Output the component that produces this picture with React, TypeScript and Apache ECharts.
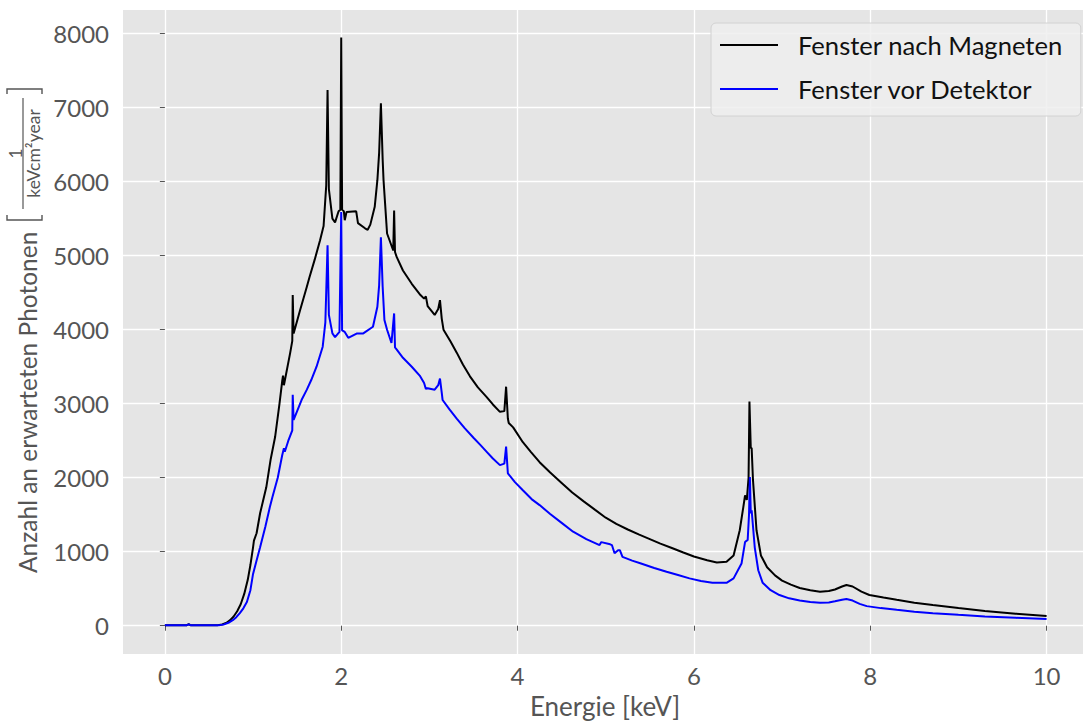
import React, { useEffect, useRef } from "react";
import * as echarts from "echarts";

// Energie [keV], Anzahl — "Fenster nach Magneten"
const magnetWindow: [number, number][] = [
  [0, 5], [0.25, 8], [0.27, 20], [0.29, 8], [0.5, 5], [0.6, 8], [0.65, 18], [0.7, 40],
  [0.74, 75], [0.78, 125], [0.82, 195], [0.86, 290], [0.9, 430], [0.94, 620], [0.97, 820],
  [1.0, 1060], [1.01, 1150], [1.04, 1250], [1.08, 1520], [1.15, 1870], [1.2, 2250],
  [1.25, 2550], [1.3, 3000], [1.33, 3300], [1.34, 3380], [1.35, 3250], [1.42, 3680],
  [1.445, 3850], [1.45, 4470], [1.46, 3950], [1.53, 4250], [1.61, 4580], [1.64, 4710],
  [1.7, 4950], [1.76, 5210], [1.8, 5400], [1.83, 5950], [1.845, 7240], [1.86, 5900],
  [1.9, 5500], [1.93, 5450], [1.97, 5600], [1.99, 5620], [2.0, 7950], [2.01, 5620],
  [2.03, 5600], [2.04, 5480], [2.06, 5590], [2.17, 5600], [2.19, 5440], [2.27, 5370],
  [2.3, 5350], [2.33, 5420], [2.38, 5660], [2.41, 6020], [2.43, 6390], [2.45, 7060],
  [2.47, 6300], [2.48, 6020], [2.5, 5660], [2.52, 5300], [2.59, 5070], [2.6, 5610],
  [2.61, 5050], [2.63, 4980], [2.7, 4800], [2.8, 4620], [2.89, 4480], [2.94, 4420],
  [2.96, 4450], [2.98, 4320], [3.06, 4200], [3.1, 4280], [3.12, 4400], [3.14, 4150],
  [3.16, 4000], [3.24, 3840], [3.31, 3690], [3.38, 3530], [3.46, 3370], [3.55, 3220],
  [3.65, 3090], [3.72, 2990], [3.8, 2890], [3.85, 2900], [3.87, 3230], [3.89, 2800],
  [3.9, 2740], [3.95, 2680], [4.06, 2480], [4.15, 2350], [4.25, 2210], [4.37, 2070],
  [4.5, 1930], [4.62, 1800], [4.75, 1680], [4.88, 1565], [5.0, 1460], [5.12, 1375],
  [5.25, 1300], [5.38, 1230], [5.5, 1170], [5.62, 1110], [5.75, 1050], [5.88, 990],
  [6.0, 935], [6.15, 885], [6.26, 855], [6.37, 865], [6.45, 950], [6.52, 1290],
  [6.56, 1600], [6.58, 1760], [6.6, 1700], [6.62, 2000], [6.63, 3030], [6.645, 2400],
  [6.655, 2400], [6.67, 1970], [6.71, 1290], [6.76, 950], [6.83, 790], [6.92, 680],
  [7.0, 610], [7.1, 555], [7.2, 510], [7.32, 480], [7.43, 460], [7.53, 470], [7.6, 490],
  [7.68, 530], [7.73, 550], [7.8, 530], [7.9, 460], [7.99, 415], [8.15, 380], [8.3, 350],
  [8.5, 312], [8.71, 280], [9.0, 238], [9.3, 200], [9.65, 163], [10, 130],
];

// Energie [keV], Anzahl — "Fenster vor Detektor"
const detectorWindow: [number, number][] = [
  [0, 5], [0.25, 8], [0.27, 18], [0.29, 8], [0.5, 5], [0.62, 8], [0.67, 18], [0.72, 40],
  [0.77, 75], [0.81, 115], [0.85, 170], [0.89, 235], [0.93, 320], [0.97, 480], [1.0, 700],
  [1.04, 880], [1.08, 1060], [1.14, 1340], [1.19, 1600], [1.22, 1740], [1.28, 2000],
  [1.33, 2300], [1.35, 2400], [1.36, 2350], [1.4, 2500], [1.445, 2640], [1.45, 3120],
  [1.46, 2780], [1.55, 3050], [1.61, 3190], [1.66, 3320], [1.72, 3500], [1.79, 3770],
  [1.82, 4100], [1.845, 5140], [1.86, 4200], [1.9, 3950], [1.93, 3900], [1.98, 3970],
  [2.0, 5590], [2.01, 3990], [2.04, 3970], [2.08, 3890], [2.18, 3950], [2.25, 3950],
  [2.36, 4040], [2.41, 4310], [2.43, 4600], [2.45, 5250], [2.47, 4580], [2.49, 4130],
  [2.52, 4000], [2.57, 3820], [2.6, 4220], [2.61, 3760], [2.63, 3730], [2.7, 3620],
  [2.8, 3500], [2.89, 3380], [2.94, 3280], [2.96, 3200], [2.98, 3210], [3.06, 3190],
  [3.1, 3250], [3.12, 3340], [3.14, 3150], [3.15, 3050], [3.23, 2920], [3.31, 2800],
  [3.4, 2670], [3.5, 2540], [3.58, 2440], [3.65, 2350], [3.72, 2260], [3.8, 2170],
  [3.85, 2190], [3.87, 2420], [3.89, 2060], [3.97, 1940], [4.06, 1830], [4.17, 1700],
  [4.25, 1630], [4.37, 1510], [4.5, 1390], [4.63, 1270], [4.78, 1170], [4.93, 1090],
  [4.95, 1130], [5.05, 1100], [5.07, 1090], [5.1, 980], [5.14, 1020], [5.16, 1020],
  [5.19, 930], [5.3, 880], [5.4, 840], [5.55, 780], [5.69, 730], [5.82, 685], [5.95, 640],
  [6.08, 605], [6.21, 580], [6.37, 580], [6.45, 640], [6.54, 840], [6.58, 1130],
  [6.61, 1160], [6.625, 1500], [6.635, 2010], [6.645, 1520], [6.655, 1560], [6.69, 1060],
  [6.73, 750], [6.78, 580], [6.87, 480], [6.97, 415], [7.08, 370], [7.2, 340],
  [7.32, 320], [7.43, 310], [7.53, 315], [7.6, 330], [7.68, 350], [7.73, 360], [7.8, 340],
  [7.88, 295], [7.96, 265], [8.12, 238], [8.3, 215], [8.5, 190], [8.71, 170], [9.0, 147],
  [9.3, 125], [9.65, 107], [10, 90],
];

const seriesNames = ["Fenster nach Magneten", "Fenster vor Detektor"];
const seriesColors = ["#000000", "#0000ff"];
const xTicks = [0, 2, 4, 6, 8, 10];
const yTicks = [0, 1000, 2000, 3000, 4000, 5000, 6000, 7000, 8000];
const xLabel = "Energie [keV]";
const yLabel = "Anzahl an erwarteten Photonen";
const yUnitNum = "1";
const yUnitDen = "keVcm²year";

const FONT = "Lato, 'Open Sans', sans-serif";
const GRAY = "#555555";

export default function App() {
  const ref = useRef<HTMLDivElement>(null);
  useEffect(() => {
    const chart = echarts.init(ref.current!, null, { renderer: "svg" });
    const bracket = { stroke: GRAY, lineWidth: 1.4, fill: "none" };
    chart.setOption({
      animation: false,
      backgroundColor: "#ffffff",
      grid: { left: 123, top: 10, right: 0, bottom: 70, show: true, backgroundColor: "#E5E5E5", borderWidth: 0 },
      xAxis: {
        type: "value",
        min: -0.475,
        max: 10.413,
        axisLine: { show: false },
        axisTick: { show: true, customValues: xTicks, length: 5, lineStyle: { color: GRAY, width: 1 } },
        axisLabel: { customValues: xTicks, color: GRAY, fontSize: 24, fontFamily: FONT, margin: 9, formatter: (v: number) => String(v) },
        splitLine: { show: true, lineStyle: { color: "#ffffff", width: 1.3 } },
      },
      yAxis: {
        type: "value",
        min: -382,
        max: 8320,
        axisLine: { show: false },
        axisTick: { show: true, customValues: yTicks, length: 5, lineStyle: { color: GRAY, width: 1 } },
        axisLabel: { customValues: yTicks, color: GRAY, fontSize: 24, fontFamily: FONT, margin: 14, formatter: (v: number) => String(v) },
        splitLine: { show: true, lineStyle: { color: "#ffffff", width: 1.3 } },
      },
      legend: {
        left: 711,
        top: 23,
        orient: "vertical",
        icon: "rect",
        itemWidth: 58,
        itemHeight: 2.2,
        itemGap: 16,
        padding: [8, 18, 13, 9],
        backgroundColor: "rgba(238,238,238,0.85)",
        borderColor: "#d2d2d2",
        borderWidth: 1,
        borderRadius: 5,
        textStyle: { color: "#111111", fontSize: 25.6, fontFamily: FONT, lineHeight: 28, padding: [0, 0, 0, 15] },
        data: seriesNames,
      },
      series: [
        {
          name: seriesNames[0],
          type: "line",
          data: magnetWindow,
          showSymbol: false,
          lineStyle: { color: seriesColors[0], width: 2 },
          itemStyle: { color: seriesColors[0] },
        },
        {
          name: seriesNames[1],
          type: "line",
          data: detectorWindow,
          showSymbol: false,
          lineStyle: { color: seriesColors[1], width: 2 },
          itemStyle: { color: seriesColors[1] },
        },
      ],
      graphic: [
        {
          type: "text",
          x: 605,
          y: 706,
          style: { text: xLabel, fill: GRAY, fontSize: 26, fontFamily: FONT, align: "center", verticalAlign: "middle" },
        },
        {
          type: "group",
          x: 27,
          y: 573,
          rotation: Math.PI / 2,
          children: [
            {
              type: "text",
              x: 0,
              y: 0,
              style: { text: yLabel, fill: GRAY, fontSize: 24.5, fontFamily: FONT, align: "left", verticalAlign: "middle" },
            },
            { type: "polyline", shape: { points: [[358, -20], [353, -20], [353, 15], [358, 15]] }, style: bracket },
            { type: "polyline", shape: { points: [[479, -20], [484, -20], [484, 15], [479, 15]] }, style: bracket },
            { type: "line", shape: { x1: 364, y1: -4, x2: 475, y2: -4 }, style: { stroke: GRAY, lineWidth: 1.2 } },
            {
              type: "text",
              x: 419.5,
              y: -12,
              style: { text: yUnitNum, fill: GRAY, fontSize: 17, fontFamily: FONT, align: "center", verticalAlign: "middle" },
            },
            {
              type: "text",
              x: 419.5,
              y: 6,
              style: { text: yUnitDen, fill: GRAY, fontSize: 17.5, fontFamily: FONT, align: "center", verticalAlign: "middle" },
            },
          ],
        },
      ],
    });
    return () => chart.dispose();
  }, []);
  return (
    <div
      ref={ref}
      style={{ position: "absolute", left: 0, top: 0, width: 1083, height: 724, background: "#ffffff" }}
    />
  );
}
